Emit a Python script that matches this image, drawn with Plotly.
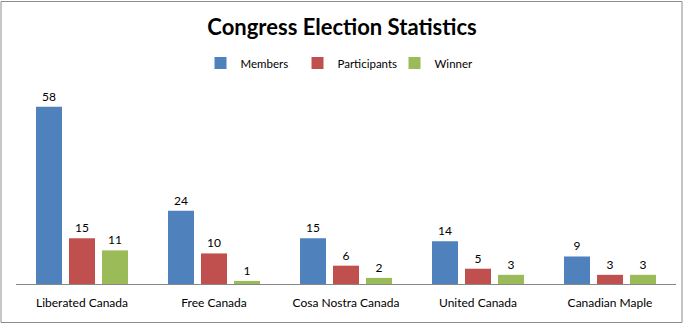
import plotly.graph_objects as go

categories = ["Liberated Canada", "Free Canada", "Cosa Nostra Canada", "United Canada", "Canadian Maple"]
members = [58, 24, 15, 14, 9]
participants = [15, 10, 6, 5, 3]
winner = [11, 1, 2, 3, 3]

series = [
    ("Members", members, "#4F81BD"),
    ("Participants", participants, "#C0504D"),
    ("Winner", winner, "#9BBB59"),
]

W, H = 684, 324
ml, mr, mt, mb = 16, 8, 70, 40
pw, ph = W - ml - mr, H - mt - mb
FONT = "Lato, sans-serif"

fig = go.Figure()
for name, vals, color in series:
    fig.add_trace(go.Bar(
        name=name, x=categories, y=vals, marker=dict(color=color, line=dict(width=0)),
        text=[str(v) for v in vals], textposition="outside",
        textfont=dict(family=FONT, size=12, color="#000"),
        cliponaxis=False,
    ))

fig.update_layout(
    width=W, height=H,
    margin=dict(l=ml, r=mr, t=mt, b=mb),
    paper_bgcolor="white", plot_bgcolor="white",
    barmode="group", bargap=0.25, bargroupgap=0.212,
    title=dict(text="<b>Congress Election Statistics</b>", x=0.5, xanchor="center",
               y=1 - 27 / H, yanchor="middle",
               font=dict(family=FONT, size=22, color="#000")),
    legend=dict(orientation="h", x=0.5, xanchor="center", y=1 + (mt - 63) / ph, yanchor="middle",
                font=dict(family=FONT, size=11.5, color="#000"),
                itemwidth=30, traceorder="normal", entrywidth=52, entrywidthmode="pixels"),
    font=dict(family=FONT, size=12, color="#000"),
    showlegend=True,
)
fig.update_xaxes(showline=True, linecolor="#868686", linewidth=1, ticks="",
                 ticklabelstandoff=8,
                 tickfont=dict(family=FONT, size=12, color="#000"),
                 showgrid=False)
fig.update_yaxes(range=[0, 70], visible=False, showgrid=False)

fig.add_shape(type="rect", xref="paper", yref="paper",
              x0=(1 - ml) / pw, x1=(W - 2 - ml) / pw,
              y0=-(mb - 1.5) / ph, y1=1 + (mt - 1.5) / ph,
              line=dict(color="#8c8c8c", width=1))

fig.write_html("out.html")
